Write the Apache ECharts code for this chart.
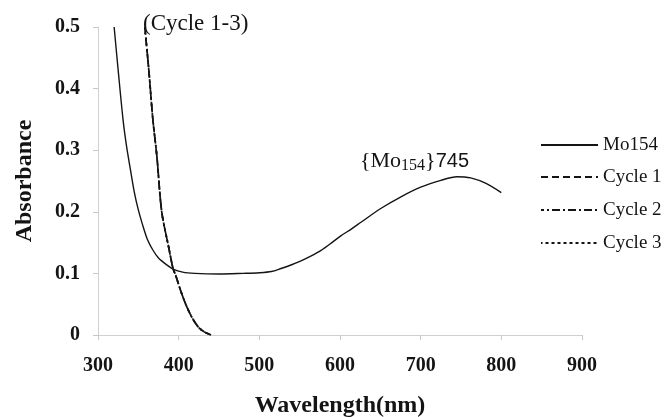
<!DOCTYPE html>
<html>
<head>
<meta charset="utf-8">
<script src="https://cdn.jsdelivr.net/npm/echarts@6/dist/echarts.min.js"></script>
<style>
html,body{margin:0;padding:0;background:#fff;}
#c{width:666px;height:417px;}
</style>
</head>
<body>
<div id="c"></div>
<script>
// Data
const xTicks = [300, 400, 500, 600, 700, 800, 900];
const yTicks = [0, 0.1, 0.2, 0.3, 0.4, 0.5];

const mo154Wl = [320, 325, 331, 335, 340, 345, 350, 355, 361, 368, 375, 385, 393, 405, 420, 450, 480, 500, 515, 527, 540, 551, 565, 576, 590, 601, 614, 626, 650, 675, 700, 725, 745, 762, 781, 800];
const mo154Abs = [0.50, 0.43, 0.35, 0.31, 0.27, 0.232, 0.203, 0.180, 0.156, 0.138, 0.125, 0.114, 0.107, 0.102, 0.100, 0.099, 0.100, 0.101, 0.103, 0.108, 0.114, 0.120, 0.129, 0.137, 0.150, 0.161, 0.172, 0.183, 0.205, 0.224, 0.240, 0.251, 0.257, 0.255, 0.246, 0.231];

const cycleWl = [358, 363, 368, 373, 379, 388, 393, 396, 403, 410, 418, 425, 432, 440];
const cycle1Abs = [0.50, 0.43, 0.35, 0.29, 0.20, 0.140, 0.108, 0.098, 0.070, 0.046, 0.025, 0.012, 0.005, 0.0];
const cycle2Abs = [0.50, 0.43, 0.35, 0.29, 0.20, 0.140, 0.108, 0.098, 0.070, 0.046, 0.025, 0.012, 0.005, 0.0];
const cycle3Abs = [0.50, 0.43, 0.35, 0.29, 0.20, 0.140, 0.108, 0.098, 0.070, 0.046, 0.025, 0.012, 0.005, 0.0];

const seriesNames = ['Mo154', 'Cycle 1', 'Cycle 2', 'Cycle 3'];

function pairs(xs, ys){ return xs.map((x,i)=>[x, ys[i]]); }

const serif = '"Liberation Serif", "DejaVu Serif", serif';
const ink = '#141414';
const legendTops = [135, 167, 200, 233];

const chart = echarts.init(document.getElementById('c'), null, {renderer:'canvas'});
chart.setOption({
  backgroundColor: '#ffffff',
  animation: false,
  grid: {left: 98, right: 84, top: 27, bottom: 82, containLabel: false, outerBoundsMode: 'none'},
  xAxis: {
    type: 'value', min: xTicks[0], max: xTicks[xTicks.length-1], interval: 100,
    name: 'Wavelength(nm)', nameLocation: 'middle', nameGap: 59,
    nameTextStyle: {fontFamily: serif, fontWeight: 'bold', fontSize: 24, color: ink},
    axisLine: {lineStyle: {color: '#d0d0d0', width: 1}},
    axisTick: {show: true, length: 5, lineStyle: {color: '#c8c8c8'}},
    axisLabel: {margin: 21, fontFamily: serif, fontWeight: 'bold', fontSize: 20, color: ink},
    splitLine: {show: false}
  },
  yAxis: {
    type: 'value', min: yTicks[0], max: yTicks[yTicks.length-1], interval: 0.1,
    name: 'Absorbance', nameLocation: 'middle', nameGap: 61,
    nameTextStyle: {fontFamily: serif, fontWeight: 'bold', fontSize: 24, color: ink},
    axisLine: {show: true, lineStyle: {color: '#d0d0d0', width: 1}},
    axisTick: {show: true, length: 5, lineStyle: {color: '#c8c8c8'}},
    axisLabel: {margin: 18, fontFamily: serif, fontWeight: 'bold', fontSize: 20, color: ink,
      formatter: v => v === 0 ? '0' : v.toFixed(1)},
    splitLine: {show: false}
  },
  legend: seriesNames.map((n, i) => ({
    orient: 'vertical', left: 540, top: legendTops[i], padding: 0,
    itemWidth: 57, itemHeight: 14, itemGap: 0,
    data: [n],
    itemStyle: {opacity: 0, borderWidth: 0},
    textStyle: {fontFamily: serif, fontSize: 19, lineHeight: 20, color: ink}
  })),
  series: [
    {name: seriesNames[0], type: 'line', data: pairs(mo154Wl, mo154Abs), smooth: 0.3, symbol: 'none',
      lineStyle: {color: ink, width: 1.4, type: 'solid'}, itemStyle: {color: ink}},
    {name: seriesNames[1], type: 'line', data: pairs(cycleWl, cycle1Abs), smooth: 0.3, symbol: 'none',
      lineStyle: {color: ink, width: 1.7, type: [7, 4]}, itemStyle: {color: ink}},
    {name: seriesNames[2], type: 'line', data: pairs(cycleWl, cycle2Abs), smooth: 0.3, symbol: 'none',
      lineStyle: {color: ink, width: 1.7, type: [8, 3, 2, 3], dashOffset: 5}, itemStyle: {color: ink}},
    {name: seriesNames[3], type: 'line', data: pairs(cycleWl, cycle3Abs), smooth: 0.3, symbol: 'none',
      lineStyle: {color: ink, width: 1.7, type: [3, 3], dashOffset: 1.5}, itemStyle: {color: ink}}
  ],
  graphic: [
    {type: 'text', left: 143, top: 12, style: {text: '(Cycle 1-3)', font: '23px ' + serif, fill: ink}},
    {type: 'text', left: 360, top: 150, style: {
      text: '{a|{Mo}{s|154}}{b|745}',
      font: '22px ' + serif,
      fill: ink,
      rich: {
        a: {font: '22px ' + serif, fill: ink},
        s: {font: '16px ' + serif, fill: ink, padding: [10,0,0,0]},
        b: {font: '20px "Liberation Sans", Arial, sans-serif', fill: ink}
      }
    }}
  ]
});
</script>
</body>
</html>
